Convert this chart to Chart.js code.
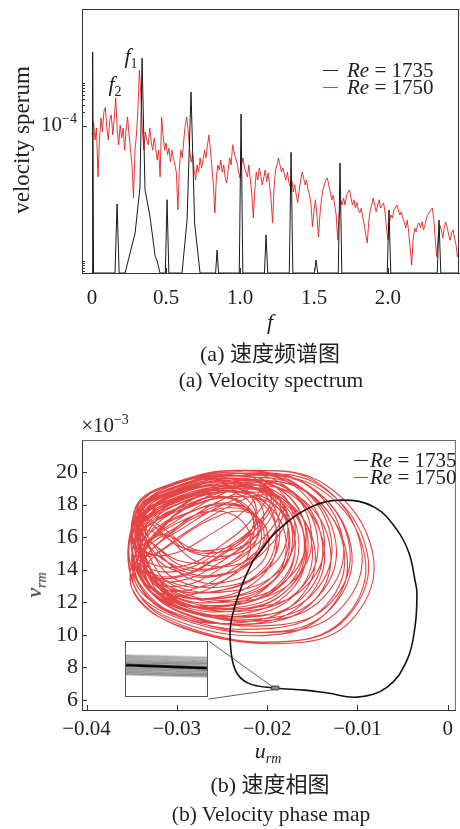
<!DOCTYPE html>
<html>
<head>
<meta charset="utf-8">
<script src="https://cdn.jsdelivr.net/npm/chart.js@4.4.1/dist/chart.umd.min.js"></script>
<style>
body { margin: 0; background: #fff; }
#page { position: relative; width: 460px; height: 829px; overflow: hidden;
        font-family: 'Liberation Serif', 'Times New Roman', 'Noto Sans CJK SC', serif; color: #222; }
#page canvas { position: absolute; left: 0; }
.t { position: absolute; white-space: nowrap; font-size: 22px; line-height: 1; transform: translate(-50%, -50%); }
.cap { font-size: 21.5px; }
.capz { font-size: 22px; }
.leg { position: absolute; white-space: nowrap; font-size: 21px; line-height: 17px; height: 17px; display: flex; align-items: center; }
.leg .ln { display: inline-block; height: 0; border-top: 1.5px solid #222; }
sub, sup { font-size: 14px; line-height: 0; }
.rot { transform: translate(-50%, -50%) rotate(-90deg); }
#inset { border: 1px solid #555; background: #fff; }
</style>
</head>
<body>
<div id="page">
  <canvas id="specChart" width="460" height="320" style="top:0;width:460px;height:320px"></canvas>
  <canvas id="phaseChart" width="460" height="340" style="top:400px;width:460px;height:340px"></canvas>
  <canvas id="inset" width="83" height="56" style="left:125px;top:641px;width:83px;height:56px"></canvas>

  <!-- panel (a) texts -->
  <div class="t rot" style="left:21px;top:140px;font-size:23px">velocity sperum</div>
  <div class="t" style="left:59px;top:124px;font-size:21px">10<sup>−4</sup></div>
  <div class="t" style="left:131px;top:56px"><i>f</i><sub>1</sub></div>
  <div class="t" style="left:115px;top:84px"><i>f</i><sub>2</sub></div>
  <div class="leg" style="left:323px;top:62px"><span class="ln" style="width:15px;margin-right:9px;border-color:#222"></span><i>Re</i>&nbsp;=&nbsp;1735</div>
  <div class="leg" style="left:323px;top:79px"><span class="ln" style="width:15px;margin-right:9px;border-color:#e33"></span><i>Re</i>&nbsp;=&nbsp;1750</div>
  <div class="t" style="left:270px;top:322px"><i>f</i></div>
  <div class="t capz" style="left:270px;top:354px">(a) 速度频谱图</div>
  <div class="t cap" style="left:271px;top:381px">(a) Velocity spectrum</div>

  <!-- panel (b) texts -->
  <div class="t" style="left:105px;top:425px;font-size:21px">×10<sup>−3</sup></div>
  <div class="t rot" style="left:34px;top:585px"><i>v</i><sub><i>rm</i></sub></div>
  <div class="leg" style="left:354px;top:452px"><span class="ln" style="width:14px;margin-right:2px;border-color:#222"></span><i>Re</i>&nbsp;=&nbsp;1735</div>
  <div class="leg" style="left:354px;top:469px"><span class="ln" style="width:14px;margin-right:2px;border-color:#e33"></span><i>Re</i>&nbsp;=&nbsp;1750</div>
  <div class="t" style="left:268px;top:751px"><i>u</i><sub><i>rm</i></sub></div>
  <div class="t capz" style="left:270px;top:785px">(b) 速度相图</div>
  <div class="t cap" style="left:271px;top:815px">(b) Velocity phase map</div>
</div>

<script>
// ---------- (a) velocity spectrum ----------
// Re = 1750: spectrum sampled on a 0.01 frequency grid
var fGrid = [
  0, 0.01, 0.02, 0.03, 0.04, 0.05, 0.06, 0.07, 0.08, 0.09,
  0.10, 0.11, 0.12, 0.13, 0.14, 0.15, 0.16, 0.17, 0.18, 0.19,
  0.20, 0.21, 0.22, 0.23, 0.24, 0.25, 0.26, 0.27, 0.28, 0.29,
  0.30, 0.31, 0.32, 0.33, 0.34, 0.35, 0.36, 0.37, 0.38, 0.39,
  0.40, 0.41, 0.42, 0.43, 0.44, 0.45, 0.46, 0.47, 0.48, 0.49,
  0.50, 0.51, 0.52, 0.53, 0.54, 0.55, 0.56, 0.57, 0.58, 0.59,
  0.60, 0.61, 0.62, 0.63, 0.64, 0.65, 0.66, 0.67, 0.68, 0.69,
  0.70, 0.71, 0.72, 0.73, 0.74, 0.75, 0.76, 0.77, 0.78, 0.79,
  0.80, 0.81, 0.82, 0.83, 0.84, 0.85, 0.86, 0.87, 0.88, 0.89,
  0.90, 0.91, 0.92, 0.93, 0.94, 0.95, 0.96, 0.97, 0.98, 0.99,
  1.00, 1.01, 1.02, 1.03, 1.04, 1.05, 1.06, 1.07, 1.08, 1.09,
  1.10, 1.11, 1.12, 1.13, 1.14, 1.15, 1.16, 1.17, 1.18, 1.19,
  1.20, 1.21, 1.22, 1.23, 1.24, 1.25, 1.26, 1.27, 1.28, 1.29,
  1.30, 1.31, 1.32, 1.33, 1.34, 1.35, 1.36, 1.37, 1.38, 1.39,
  1.40, 1.41, 1.42, 1.43, 1.44, 1.45, 1.46, 1.47, 1.48, 1.49,
  1.50, 1.51, 1.52, 1.53, 1.54, 1.55, 1.56, 1.57, 1.58, 1.59,
  1.60, 1.61, 1.62, 1.63, 1.64, 1.65, 1.66, 1.67, 1.68, 1.69,
  1.70, 1.71, 1.72, 1.73, 1.74, 1.75, 1.76, 1.77, 1.78, 1.79,
  1.80, 1.81, 1.82, 1.83, 1.84, 1.85, 1.86, 1.87, 1.88, 1.89,
  1.90, 1.91, 1.92, 1.93, 1.94, 1.95, 1.96, 1.97, 1.98, 1.99,
  2.00, 2.01, 2.02, 2.03, 2.04, 2.05, 2.06, 2.07, 2.08, 2.09,
  2.10, 2.11, 2.12, 2.13, 2.14, 2.15, 2.16, 2.17, 2.18, 2.19,
  2.20, 2.21, 2.22, 2.23, 2.24, 2.25, 2.26, 2.27, 2.28, 2.29,
  2.30, 2.31, 2.32, 2.33, 2.34, 2.35, 2.36, 2.37, 2.38, 2.39,
  2.40, 2.41, 2.42, 2.43, 2.44, 2.45, 2.46, 2.47, 2.48
];
var spec1750 = [
  6.3e-5, 1.23e-4, 4.9e-5, 9.0e-5, 7.4e-6, 4.9e-5, 1.51e-4, 7.4e-5, 2.05e-4, 2.6e-4,
  9.0e-5, 4.9e-5, 1.36e-4, 1.76e-4, 6.3e-5, 1.51e-4, 4.2e-4, 8.1e-5, 3.8e-5, 1.05e-4,
  5.4e-5, 9.0e-5, 2.9e-5, 8.1e-5, 1.58e-4, 6.3e-5, 2.9e-5, 1.36e-5, 2.5e-6, 2.9e-5,
  6.3e-5, 2.3e-4, 1.75e-3, 4.9e-4, 8.1e-5, 2.9e-5, 7.4e-5, 4.9e-5, 3.8e-5, 9.0e-5,
  4.4e-5, 2.9e-5, 5.4e-5, 3.2e-5, 1.75e-5, 2.9e-5, 7.4e-6, 1.58e-4, 6.3e-5, 2.9e-5,
  4.2e-5, 2.3e-5, 3.2e-5, 1.58e-5, 2.9e-5, 1.95e-5, 1.36e-5, 9.0e-6, 1.36e-6, 1.17e-5,
  2.9e-5, 1.95e-5, 4.9e-5, 1.05e-4, 1.58e-4, 7.4e-5, 2.9e-5, 1.58e-5, 2.3e-5, 1.05e-5,
  6.3e-6, 1.36e-5, 9.5e-6, 1.95e-5, 1.17e-5, 1.75e-5, 2.9e-5, 1.95e-5, 3.8e-5, 6.3e-5,
  2.9e-5, 1.17e-5, 4.9e-6, 1.17e-6, 7.0e-6, 1.36e-5, 1.05e-5, 1.75e-5, 9.5e-6, 1.36e-5,
  7.0e-6, 5.4e-6, 1.05e-5, 1.95e-5, 1.36e-5, 3.8e-5, 2.6e-5, 1.95e-5, 1.5e-5, 9.5e-6,
  7.0e-6, 1.36e-5, 1.95e-5, 1.17e-5, 9.5e-6, 7.4e-6, 1.36e-5, 6.3e-6, 2.9e-6, 9.0e-7,
  3.8e-6, 9.5e-6, 6.3e-6, 1.17e-5, 8.1e-6, 4.9e-6, 7.0e-6, 1.05e-5, 5.7e-6, 9.0e-6,
  4.9e-6, 2.3e-6, 7.0e-7, 4.2e-6, 1.05e-5, 1.36e-5, 1.95e-5, 1.36e-5, 9.5e-6, 1.17e-5,
  8.1e-6, 6.3e-6, 9.5e-6, 5.7e-6, 4.4e-6, 6.3e-6, 3.4e-6, 4.9e-6, 2.9e-6, 1.95e-6,
  3.8e-6, 6.3e-6, 9.5e-6, 7.0e-6, 4.9e-6, 6.3e-6, 3.8e-6, 2.9e-6, 1.75e-6, 5.7e-7,
  1.36e-6, 2.3e-6, 1.05e-6, 3.4e-7, 1.05e-6, 2.3e-6, 3.8e-6, 4.9e-6, 6.3e-6, 7.0e-6,
  4.9e-6, 3.4e-6, 2.3e-6, 2.9e-6, 1.75e-6, 1.05e-6, 2.9e-7, 1.05e-6, 2.3e-6, 1.75e-6,
  2.5e-6, 1.75e-6, 2.9e-6, 3.4e-6, 3.8e-6, 2.5e-6, 1.75e-6, 2.3e-6, 1.5e-6, 2.0e-6,
  1.36e-6, 1.17e-6, 1.5e-6, 9.0e-7, 6.3e-7, 3.8e-7, 2.5e-7, 7.4e-7, 1.36e-6, 1.75e-6,
  2.5e-6, 1.75e-6, 1.23e-6, 1.75e-6, 2.3e-6, 1.5e-6, 1.75e-6, 1.95e-6, 1.23e-6, 5.4e-7,
  2.9e-7, 7.4e-7, 1.05e-6, 9.0e-7, 1.36e-6, 1.5e-6, 1.75e-6, 1.36e-6, 1.05e-6, 1.23e-6,
  9.0e-7, 7.4e-7, 5.4e-7, 8.1e-7, 4.4e-7, 1.95e-7, 8.1e-8, 2.9e-7, 5.4e-7, 4.4e-7,
  6.3e-7, 7.0e-7, 5.4e-7, 7.4e-7, 4.9e-7, 6.3e-7, 9.0e-7, 1.05e-6, 1.23e-6, 1.36e-6,
  1.5e-6, 8.1e-7, 2.9e-7, 1.23e-7, 3.8e-7, 6.3e-7, 4.9e-7, 3.2e-7, 5.4e-7, 7.4e-7,
  5.7e-7, 3.8e-7, 2.9e-7, 4.2e-7, 4.9e-7, 3.2e-7, 2.3e-7, 1.23e-7, 1.75e-7
];

// Re = 1735: discrete peaks (f1 and harmonics) over a floor at the axis bottom
var f1735 = [
  0, 0.004, 0.010, 0.155, 0.169, 0.183, 0.223, 0.257, 0.291, 0.324,
  0.338, 0.358, 0.392, 0.426, 0.440, 0.459, 0.495, 0.507, 0.519, 0.608,
  0.642, 0.669, 0.693, 0.730, 0.835, 0.845, 0.855, 0.995, 1.007, 1.019,
  1.165, 1.176, 1.187, 1.333, 1.345, 1.357, 1.503, 1.514, 1.525, 1.664,
  1.676, 1.688, 1.995, 2.007, 2.019, 2.333, 2.345, 2.357, 2.48
];
var spec1735 = [
  5.4e-8, 4.4e-3, 5.4e-8, 5.4e-8, 1.85e-6, 5.4e-8, 5.4e-8, 1.5e-7, 4.2e-7, 4.4e-6,
  3.2e-3, 3.8e-6, 9.5e-7, 1.3e-7, 1.0e-7, 5.4e-8, 5.4e-8, 2.3e-6, 5.4e-8, 5.4e-8,
  8.1e-7, 5.7e-4, 7.0e-7, 5.4e-8, 5.4e-8, 1.75e-7, 5.4e-8, 5.4e-8, 1.85e-4, 5.4e-8,
  5.4e-8, 3.8e-7, 5.4e-8, 5.4e-8, 2.6e-5, 5.4e-8, 5.4e-8, 1.05e-7, 5.4e-8, 5.4e-8,
  1.5e-5, 5.4e-8, 5.4e-8, 1.36e-6, 5.4e-8, 5.4e-8, 8.1e-7, 5.4e-8, 5.4e-8
];

var fTicks = [0, 0.5, 1, 1.5, 2];
var sMinorTicks = [6e-8, 7e-8, 8e-8, 9e-8, 1e-7, 2e-4, 3e-4, 4e-4, 5e-4, 6e-4, 7e-4, 8e-4, 9e-4];
var sMajorTicks = [1e-4];

// ---------- (b) velocity phase map ----------
// Re = 1735: closed orbit
var u1735 = [-0.02154, -0.02066, -0.01879, -0.01516, -0.01165, -0.00813, -0.0056, -0.00429, -0.00363, -0.00341,
             -0.00363, -0.00451, -0.0067, -0.0100, -0.0133, -0.01582, -0.01912, -0.02209, -0.02352, -0.02407,
             -0.02396, -0.02286, -0.02154];
var v1735 = [14.59, 15.2, 16.43, 17.84, 18.27, 17.84, 16.43, 15.02, 13.36, 12.56,
             10.48, 8.45, 6.8, 6.18, 6.43, 6.61, 6.74, 7.04, 7.84, 9.5,
             10.9, 12.93, 14.59];

// Re = 1750: successive laps of the chaotic trajectory (v in units of 1e-3)
var u1750 = [
  [-0.0335, -0.0295, -0.0245, -0.0205, -0.0190, -0.0205, -0.0255, -0.0310, -0.0338],
  [-0.0333, -0.0292, -0.0239, -0.0194, -0.0175, -0.0191, -0.0243, -0.0304, -0.0336],
  [-0.0320, -0.0283, -0.0245, -0.0215, -0.0203, -0.0215, -0.0253, -0.0293, -0.0322],
  [-0.0337, -0.0300, -0.0243, -0.0194, -0.0172, -0.0188, -0.0241, -0.0309, -0.0339],
  [-0.0330, -0.0295, -0.0255, -0.0222, -0.0212, -0.0228, -0.0262, -0.0300, -0.0332],
  [-0.0340, -0.0300, -0.0255, -0.0215, -0.0195, -0.0210, -0.0250, -0.0300, -0.0335],
  [-0.0328, -0.0288, -0.0236, -0.0194, -0.0177, -0.0192, -0.0243, -0.0301, -0.0331],
  [-0.0340, -0.0298, -0.0238, -0.0184, -0.0158, -0.0175, -0.0230, -0.0304, -0.0337],
  [-0.0300, -0.0270, -0.0240, -0.0215, -0.0208, -0.0222, -0.0252, -0.0285, -0.0302],
  [-0.0338, -0.0302, -0.0246, -0.0200, -0.0179, -0.0195, -0.0247, -0.0312, -0.0340],
  [-0.0325, -0.0290, -0.0250, -0.0218, -0.0206, -0.0220, -0.0256, -0.0295, -0.0327],
  [-0.0338, -0.0296, -0.0232, -0.0174, -0.0144, -0.0162, -0.0218, -0.0299, -0.0336],
  [-0.0345, -0.0310, -0.0265, -0.0222, -0.0200, -0.0212, -0.0248, -0.0295, -0.0338],
  [-0.0333, -0.0292, -0.0233, -0.0182, -0.0157, -0.0174, -0.0228, -0.0299, -0.0337],
  [-0.0341, -0.0302, -0.0235, -0.0172, -0.0139, -0.0157, -0.0215, -0.0302, -0.0343],
  [-0.0318, -0.0285, -0.0248, -0.0220, -0.0212, -0.0226, -0.0260, -0.0296, -0.0320],
  [-0.0315, -0.0280, -0.0240, -0.0210, -0.0198, -0.0212, -0.0250, -0.0288, -0.0318],
  [-0.0335, -0.0295, -0.0250, -0.0205, -0.0185, -0.0200, -0.0245, -0.0295, -0.0330],
  [-0.0340, -0.0303, -0.0240, -0.0185, -0.0157, -0.0174, -0.0229, -0.0307, -0.0342],
  [-0.0338, -0.0299, -0.0228, -0.0161, -0.0124, -0.0143, -0.0202, -0.0296, -0.0341],
  [-0.0310, -0.0278, -0.0245, -0.0222, -0.0215, -0.0230, -0.0262, -0.0295, -0.0312],
  [-0.0335, -0.0298, -0.0258, -0.0228, -0.0218, -0.0232, -0.0266, -0.0305, -0.0336],
  [-0.0327, -0.0286, -0.0233, -0.0188, -0.0169, -0.0185, -0.0237, -0.0298, -0.0330],
  [-0.0342, -0.0302, -0.0228, -0.0156, -0.0115, -0.0135, -0.0196, -0.0296, -0.0345],
  [-0.0348, -0.0312, -0.0270, -0.0230, -0.0208, -0.0222, -0.0262, -0.0310, -0.0342],
  [-0.0337, -0.0295, -0.0229, -0.0169, -0.0137, -0.0155, -0.0212, -0.0296, -0.0341],
  [-0.0346, -0.0306, -0.0228, -0.0152, -0.0107, -0.0128, -0.0190, -0.0297, -0.0349],
  [-0.0305, -0.0272, -0.0238, -0.0212, -0.0204, -0.0218, -0.0250, -0.0283, -0.0307],
  [-0.0337, -0.0297, -0.0240, -0.0191, -0.0169, -0.0185, -0.0238, -0.0306, -0.0335],
  [-0.0330, -0.0290, -0.0245, -0.0200, -0.0178, -0.0195, -0.0240, -0.0290, -0.0326],
  [-0.0343, -0.0302, -0.0221, -0.0140, -0.0092, -0.0113, -0.0177, -0.0290, -0.0346],
  [-0.0345, -0.0307, -0.0237, -0.0173, -0.0137, -0.0156, -0.0214, -0.0305, -0.0348],
  [-0.0325, -0.0288, -0.0250, -0.0222, -0.0210, -0.0222, -0.0258, -0.0297, -0.0327],
  [-0.0342, -0.0305, -0.0262, -0.0218, -0.0196, -0.0208, -0.0250, -0.0300, -0.0338],
  [-0.0346, -0.0305, -0.0220, -0.0135, -0.0083, -0.0105, -0.0170, -0.0290, -0.0350],
  [-0.0328, -0.0292, -0.0255, -0.0225, -0.0214, -0.0228, -0.0262, -0.0300, -0.0330],
  [-0.0332, -0.0290, -0.0230, -0.0176, -0.0150, -0.0167, -0.0222, -0.0296, -0.0335],
  [-0.0295, -0.0262, -0.0232, -0.0208, -0.0200, -0.0215, -0.0245, -0.0278, -0.0297],
  [-0.0337, -0.0298, -0.0225, -0.0156, -0.0116, -0.0136, -0.0196, -0.0293, -0.0340],
  [-0.0339, -0.0299, -0.0243, -0.0197, -0.0176, -0.0192, -0.0244, -0.0309, -0.0337],
  [-0.0338, -0.0298, -0.0252, -0.0210, -0.0190, -0.0205, -0.0248, -0.0298, -0.0333],
  [-0.0344, -0.0305, -0.0228, -0.0155, -0.0112, -0.0132, -0.0193, -0.0297, -0.0348],
  [-0.0345, -0.0307, -0.0243, -0.0185, -0.0155, -0.0173, -0.0229, -0.0310, -0.0347],
  [-0.0341, -0.0300, -0.0221, -0.0143, -0.0096, -0.0117, -0.0180, -0.0290, -0.0344],
  [-0.0344, -0.0306, -0.0260, -0.0215, -0.0193, -0.0207, -0.0250, -0.0302, -0.0340],
  [-0.0340, -0.0300, -0.0248, -0.0206, -0.0189, -0.0204, -0.0255, -0.0313, -0.0337],
  [-0.0336, -0.0293, -0.0226, -0.0163, -0.0130, -0.0148, -0.0206, -0.0293, -0.0340],
  [-0.0346, -0.0306, -0.0222, -0.0140, -0.0089, -0.0111, -0.0175, -0.0292, -0.0350],
  [-0.0332, -0.0292, -0.0248, -0.0203, -0.0182, -0.0198, -0.0242, -0.0292, -0.0328],
  [-0.0341, -0.0304, -0.0245, -0.0194, -0.0169, -0.0186, -0.0240, -0.0311, -0.0343],
  [-0.0343, -0.0304, -0.0233, -0.0166, -0.0129, -0.0148, -0.0207, -0.0301, -0.0346],
  [-0.0338, -0.0297, -0.0234, -0.0179, -0.0151, -0.0168, -0.0223, -0.0301, -0.0336],
  [-0.0334, -0.0293, -0.0236, -0.0187, -0.0165, -0.0181, -0.0234, -0.0302, -0.0338],
  [-0.0343, -0.0305, -0.0239, -0.0179, -0.0147, -0.0165, -0.0222, -0.0306, -0.0345],
  [-0.0340, -0.0296, -0.0222, -0.0150, -0.0109, -0.0129, -0.0190, -0.0290, -0.0339],
  [-0.0340, -0.0303, -0.0250, -0.0205, -0.0186, -0.0202, -0.0254, -0.0315, -0.0341],
  [-0.0337, -0.0299, -0.0239, -0.0185, -0.0159, -0.0176, -0.0231, -0.0305, -0.0338]
];
var v1750 = [
  [17.0, 18.4, 19.0, 18.3, 16.3, 14.0, 12.7, 13.0, 15.0],
  [16.8, 18.2, 18.8, 18.1, 15.9, 13.4, 12.1, 12.4, 14.5],
  [16.5, 17.6, 18.1, 17.5, 16.0, 14.6, 13.7, 13.9, 15.2],
  [17.4, 18.8, 19.4, 18.7, 16.2, 13.6, 12.3, 12.7, 14.8],
  [17.2, 18.4, 18.9, 18.3, 16.9, 15.4, 14.5, 14.6, 15.8],
  [15.8, 17.4, 18.8, 19.4, 18.6, 16.9, 15.0, 13.6, 14.2],
  [17.5, 18.9, 19.6, 18.8, 16.7, 14.4, 13.0, 13.4, 15.4],
  [17.0, 18.5, 19.1, 18.4, 15.7, 12.9, 11.5, 12.0, 14.2],
  [16.6, 17.6, 18.0, 17.5, 16.4, 15.3, 14.8, 15.1, 15.9],
  [16.7, 18.1, 18.8, 18.0, 15.7, 13.2, 11.8, 12.2, 14.3],
  [16.2, 17.4, 18.0, 17.5, 16.1, 14.5, 13.6, 13.8, 15.0],
  [17.4, 18.9, 19.5, 18.8, 15.9, 12.9, 11.5, 12.1, 14.3],
  [16.4, 17.9, 19.0, 19.6, 18.9, 17.4, 15.6, 14.2, 14.8],
  [17.5, 18.9, 19.6, 18.8, 16.3, 13.6, 12.2, 12.7, 14.8],
  [17.4, 18.9, 19.6, 18.8, 15.7, 12.5, 11.1, 11.7, 14.0],
  [17.5, 18.6, 19.1, 18.6, 17.3, 15.9, 15.2, 15.4, 16.4],
  [16.0, 17.2, 17.8, 17.2, 15.6, 14.1, 13.2, 13.5, 14.8],
  [15.2, 16.8, 18.3, 19.0, 18.0, 16.2, 14.3, 13.0, 13.6],
  [17.0, 18.4, 19.1, 18.3, 15.5, 12.7, 11.3, 11.8, 14.0],
  [17.7, 19.1, 19.9, 19.0, 15.7, 12.4, 11.0, 11.6, 13.9],
  [17.0, 18.0, 18.4, 17.9, 16.8, 15.6, 15.0, 15.4, 16.2],
  [15.6, 16.9, 17.6, 17.0, 15.5, 14.0, 13.0, 13.2, 14.3],
  [16.5, 17.9, 18.5, 17.8, 15.6, 13.1, 11.8, 12.1, 14.2],
  [17.5, 18.9, 19.7, 18.8, 15.3, 11.8, 10.4, 11.1, 13.4],
  [16.8, 18.3, 19.4, 19.9, 19.2, 17.8, 16.2, 14.9, 15.4],
  [17.8, 19.2, 19.9, 19.1, 16.1, 13.1, 11.7, 12.2, 14.5],
  [17.7, 19.2, 20.0, 19.1, 15.4, 11.7, 10.2, 11.0, 13.4],
  [17.2, 18.3, 18.8, 18.3, 17.1, 15.8, 15.1, 15.3, 16.2],
  [17.8, 19.2, 19.8, 19.1, 16.6, 14.0, 12.7, 13.1, 15.2],
  [14.8, 16.3, 17.8, 18.6, 17.5, 15.6, 13.6, 12.4, 13.0],
  [17.5, 19.0, 19.8, 18.9, 14.9, 11.1, 9.6, 10.5, 12.9],
  [17.2, 18.7, 19.4, 18.6, 15.4, 12.2, 10.7, 11.4, 13.6],
  [16.9, 18.0, 18.5, 17.9, 16.5, 15.0, 14.1, 14.3, 15.6],
  [16.1, 17.6, 18.9, 19.5, 18.6, 17.0, 15.2, 13.9, 14.5],
  [17.8, 19.3, 20.1, 19.2, 15.0, 11.0, 9.5, 10.4, 12.9],
  [16.7, 17.9, 18.5, 17.9, 16.5, 15.0, 14.0, 14.2, 15.4],
  [16.7, 18.2, 18.8, 18.1, 15.4, 12.6, 11.2, 11.7, 13.9],
  [16.0, 17.1, 17.6, 17.1, 16.0, 14.8, 14.2, 14.5, 15.3],
  [17.8, 19.3, 20.0, 19.2, 15.8, 12.4, 10.9, 11.6, 13.9],
  [17.2, 18.6, 19.3, 18.5, 16.2, 13.7, 12.3, 12.7, 14.8],
  [15.5, 17.1, 18.6, 19.2, 18.3, 16.5, 14.6, 13.3, 13.9],
  [17.3, 18.8, 19.5, 18.7, 15.0, 11.5, 10.0, 10.8, 13.1],
  [17.5, 19.0, 19.6, 18.9, 16.0, 13.0, 11.6, 12.2, 14.4],
  [17.9, 19.4, 20.1, 19.3, 15.4, 11.7, 10.2, 11.0, 13.4],
  [16.0, 17.5, 18.9, 19.5, 18.5, 16.8, 14.9, 13.5, 14.1],
  [16.8, 18.2, 18.9, 18.1, 16.0, 13.7, 12.3, 12.7, 14.7],
  [17.0, 18.5, 19.2, 18.4, 15.3, 12.1, 10.7, 11.3, 13.6],
  [17.7, 19.2, 19.9, 19.1, 15.0, 11.1, 9.6, 10.4, 12.9],
  [15.0, 16.6, 18.0, 18.8, 17.8, 15.9, 13.9, 12.7, 13.3],
  [17.1, 18.5, 19.2, 18.4, 15.9, 13.2, 11.8, 12.3, 14.4],
  [17.9, 19.3, 20.1, 19.2, 15.9, 12.6, 11.2, 11.8, 14.1],
  [17.8, 19.2, 19.9, 19.1, 16.3, 13.5, 12.1, 12.6, 14.8],
  [17.0, 18.4, 19.0, 18.3, 15.8, 13.2, 11.9, 12.3, 14.4],
  [16.9, 18.3, 19.0, 18.2, 15.2, 12.2, 10.8, 11.3, 13.6],
  [17.7, 19.1, 19.9, 19.0, 15.5, 12.0, 10.6, 11.3, 13.6],
  [17.4, 18.8, 19.4, 18.7, 16.5, 14.0, 12.7, 13.0, 15.1],
  [17.2, 18.7, 19.3, 18.6, 15.9, 13.1, 11.7, 12.2, 14.4]
];

// zoom box on the Re = 1735 orbit and the inset window it maps to
var boxU = [-0.0195, -0.0187, -0.0187, -0.0195, -0.0195];
var boxV = [6.62, 6.62, 6.86, 6.86, 6.62];
var insetU = [-0.03582, -0.02648];
var insetV = [6.06, 9.62];
var uTicks = [-0.04, -0.03, -0.02, -0.01, 0];
var vTicks = [6, 8, 10, 12, 14, 16, 18, 20];

// inset: magnified strands of the orbit inside the box
var insetX = [-0.0195, -0.0191, -0.0187];
var insetStrands = [
  [6.800, 6.796, 6.790], [6.792, 6.787, 6.781], [6.785, 6.779, 6.772], [6.778, 6.771, 6.766],
  [6.770, 6.766, 6.760], [6.764, 6.760, 6.752], [6.748, 6.742, 6.737], [6.741, 6.736, 6.731],
  [6.735, 6.729, 6.724], [6.728, 6.722, 6.717], [6.722, 6.716, 6.712], [6.716, 6.711, 6.707]
];
var insetCore = [6.757, 6.751, 6.744];

Chart.defaults.font.family = "'Liberation Serif', 'Times New Roman', serif";
Chart.defaults.font.size = 21;
Chart.defaults.color = '#222';

function pts(xs, ys) {
  return xs.map(function (x, i) { return { x: x, y: ys[i] }; });
}

// frame on top/right and ticks pointing inward
function frameTicks(xMajor, yMajor, yMinor, frameColor) {
  return {
    id: 'frameTicks',
    afterDatasetsDraw: function (chart) {
      var ctx = chart.ctx, a = chart.chartArea;
      var xs = chart.scales.x, ys = chart.scales.y;
      ctx.save();
      ctx.strokeStyle = frameColor;
      ctx.lineWidth = 1;
      ctx.beginPath();
      ctx.moveTo(a.left, a.top + 0.5); ctx.lineTo(a.right, a.top + 0.5);
      ctx.moveTo(a.right - 0.5, a.top); ctx.lineTo(a.right - 0.5, a.bottom);
      ctx.stroke();
      ctx.strokeStyle = '#333';
      ctx.beginPath();
      xMajor.forEach(function (v) {
        var px = Math.round(xs.getPixelForValue(v)) + 0.5;
        ctx.moveTo(px, a.bottom); ctx.lineTo(px, a.bottom - 5);
      });
      yMajor.forEach(function (v) {
        var py = Math.round(ys.getPixelForValue(v)) + 0.5;
        ctx.moveTo(a.left, py); ctx.lineTo(a.left + 5, py);
      });
      yMinor.forEach(function (v) {
        var py = Math.round(ys.getPixelForValue(v)) + 0.5;
        ctx.moveTo(a.left, py); ctx.lineTo(a.left + 3, py);
      });
      ctx.stroke();
      ctx.restore();
    }
  };
}

new Chart(document.getElementById('specChart'), {
  type: 'line',
  data: {
    datasets: [
      { label: 'Re = 1735', data: pts(f1735, spec1735), borderColor: '#1a1a1a', borderWidth: 1,
        pointRadius: 0, tension: 0 },
      { label: 'Re = 1750', data: pts(fGrid, spec1750), borderColor: 'rgba(226,36,36,0.9)', borderWidth: 1,
        pointRadius: 0, tension: 0 }
    ]
  },
  options: {
    responsive: false,
    animation: false,
    events: [],
    layout: { padding: { top: 9, right: 1, left: 0, bottom: 0 } },
    plugins: { legend: { display: false }, tooltip: { enabled: false } },
    scales: {
      x: {
        type: 'linear', min: -0.068, max: 2.48,
        grid: { display: false, drawTicks: false },
        border: { color: '#333', width: 1 },
        ticks: { stepSize: 0.5, includeBounds: false, padding: 13, maxRotation: 0,
                 callback: function (v) { return v === 0 ? '0' : v.toFixed(1); } },
        afterFit: function (s) { s.height = 47; }
      },
      y: {
        type: 'logarithmic', min: 5.4e-8, max: 3.98e-2,
        grid: { display: false, drawTicks: false },
        border: { color: '#333', width: 1 },
        ticks: { display: false },
        afterFit: function (s) { s.width = 82; }
      }
    }
  },
  plugins: [frameTicks(fTicks, sMajorTicks, sMinorTicks, '#333')]
});

var redLaps = [];
u1750.forEach(function (lap, i) { redLaps = redLaps.concat(pts(lap, v1750[i])); });

new Chart(document.getElementById('phaseChart'), {
  type: 'line',
  data: {
    datasets: [
      { label: 'zoom box', data: pts(boxU, boxV), borderColor: '#444', backgroundColor: '#888',
        borderWidth: 1, pointRadius: 0, tension: 0, fill: 'shape' },
      { label: 'link upper', data: [{ x: boxU[3], y: boxV[3] }, { x: insetU[1], y: insetV[1] }],
        borderColor: '#333', borderWidth: 0.8, pointRadius: 0, tension: 0 },
      { label: 'link lower', data: [{ x: boxU[0], y: boxV[0] }, { x: insetU[1], y: insetV[0] }],
        borderColor: '#333', borderWidth: 0.8, pointRadius: 0, tension: 0 },
      { label: 'Re = 1735', data: pts(u1735, v1735), borderColor: '#111', borderWidth: 1.6,
        pointRadius: 0, tension: 0.4 },
      { label: 'Re = 1750', data: redLaps, borderColor: 'rgba(224,36,36,0.85)', borderWidth: 1.1,
        pointRadius: 0, tension: 0.4 }
    ]
  },
  options: {
    responsive: false,
    animation: false,
    events: [],
    layout: { padding: { top: 40, right: 1, left: 0, bottom: 0 } },
    plugins: { legend: { display: false }, tooltip: { enabled: false } },
    scales: {
      x: {
        type: 'linear', min: -0.0405, max: 0.0009,
        grid: { display: false, drawTicks: false },
        border: { color: '#333', width: 1 },
        ticks: { stepSize: 0.01, includeBounds: false, padding: 7, maxRotation: 0,
                 callback: function (v) { return Math.abs(v) < 1e-9 ? '0' : '\u2212' + Math.abs(v).toFixed(2); } },
        afterFit: function (s) { s.height = 30; }
      },
      y: {
        type: 'linear', min: 5.39, max: 21.96,
        grid: { display: false, drawTicks: false },
        border: { color: '#333', width: 1 },
        ticks: { stepSize: 2, includeBounds: false, padding: 4, font: { size: 22 } },
        afterFit: function (s) { s.width = 82; }
      }
    }
  },
  plugins: [frameTicks(uTicks, vTicks, [], '#666')]
});

var strandSets = insetStrands.map(function (s) {
  return { data: pts(insetX, s), borderColor: 'rgba(70,70,70,0.45)', borderWidth: 2,
           pointRadius: 0, tension: 0 };
});
strandSets.push({ data: pts(insetX, insetCore), borderColor: '#000', borderWidth: 3, pointRadius: 0, tension: 0 });

new Chart(document.getElementById('inset'), {
  type: 'line',
  data: { datasets: strandSets },
  options: {
    responsive: false,
    animation: false,
    events: [],
    layout: { padding: 0 },
    plugins: { legend: { display: false }, tooltip: { enabled: false } },
    scales: {
      x: { type: 'linear', display: false, min: -0.0195, max: -0.0187 },
      y: { type: 'linear', display: false, min: 6.62, max: 6.86 }
    }
  }
});
</script>
</body>
</html>
